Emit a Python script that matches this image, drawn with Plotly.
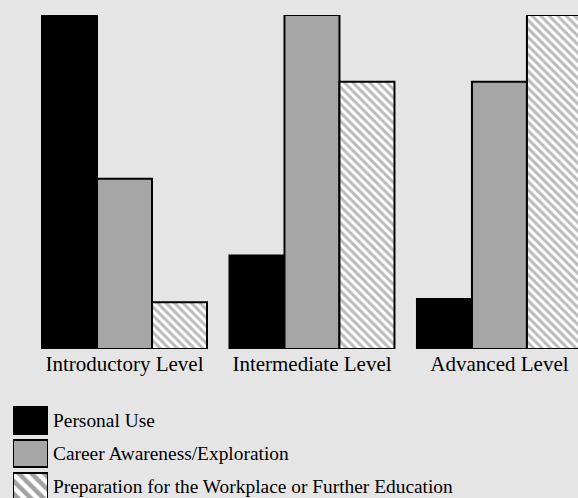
import plotly.graph_objects as go

levels = ["Introductory Level", "Intermediate Level", "Advanced Level"]
series_names = ["Personal Use", "Career Awareness/Exploration",
                "Preparation for the Workplace or Further Education"]
personal_use = [100, 28, 15]
career_awareness = [51, 100, 80]
preparation = [14, 80, 100]

values = [personal_use, career_awareness, preparation]
colors = ["#000000", "#a6a6a6", "#ffffff"]
shapes = ["", "", "\\"]

FONT = "Liberation Serif, Times New Roman, serif"
BG = "#e5e5e5"
W, H = 578, 498

fig = go.Figure()
for name, vals, col, shp in zip(series_names, values, colors, shapes):
    fig.add_trace(go.Bar(
        x=levels, y=vals, name=name, showlegend=False,
        marker=dict(color=col, line=dict(color="black", width=2),
                    pattern=dict(shape=shp, fgcolor="#777777", bgcolor="#ffffff",
                                 size=6, solidity=0.5)),
        xaxis="x", yaxis="y",
    ))

# legend swatches as a small horizontal bar chart
fig.add_trace(go.Bar(
    y=series_names, x=[1, 1, 1], orientation="h", width=0.82, showlegend=False,
    marker=dict(color=colors, line=dict(color="black", width=2),
                pattern=dict(shape=shapes, fgcolor="#777777", bgcolor="#ffffff",
                             size=9, solidity=0.5)),
    xaxis="x2", yaxis="y2",
))

fig.update_layout(
    width=W, height=H,
    margin=dict(l=0, r=0, t=0, b=0),
    paper_bgcolor=BG, plot_bgcolor=BG,
    barmode="group", bargap=0.12, bargroupgap=0,
    font=dict(family=FONT, color="black"),
    xaxis=dict(domain=[30.75 / W, 1], range=[-0.5, 2.419], showgrid=False,
               zeroline=False, showline=False, ticks="", automargin=False,
               tickfont=dict(size=21, family=FONT), anchor="y"),
    yaxis=dict(domain=[(H - 349) / H, (H - 15) / H], range=[0, 100],
               showgrid=False, zeroline=False, showticklabels=False,
               automargin=False, anchor="x"),
    xaxis2=dict(domain=[13 / W, 48 / W], range=[0, 1], showgrid=False,
                zeroline=False, showticklabels=False, automargin=False,
                anchor="y2"),
    yaxis2=dict(domain=[0, (H - 404) / H], range=[2.35, -0.5], side="right",
                showgrid=False, zeroline=False, ticks="", automargin=False,
                tickfont=dict(size=19.4, family=FONT), anchor="x2",
                ticklabelstandoff=4),
)

fig.write_html("out.html", config={"displayModeBar": False},
               post_script="document.body.style.margin='0';document.body.style.overflow='hidden';")
